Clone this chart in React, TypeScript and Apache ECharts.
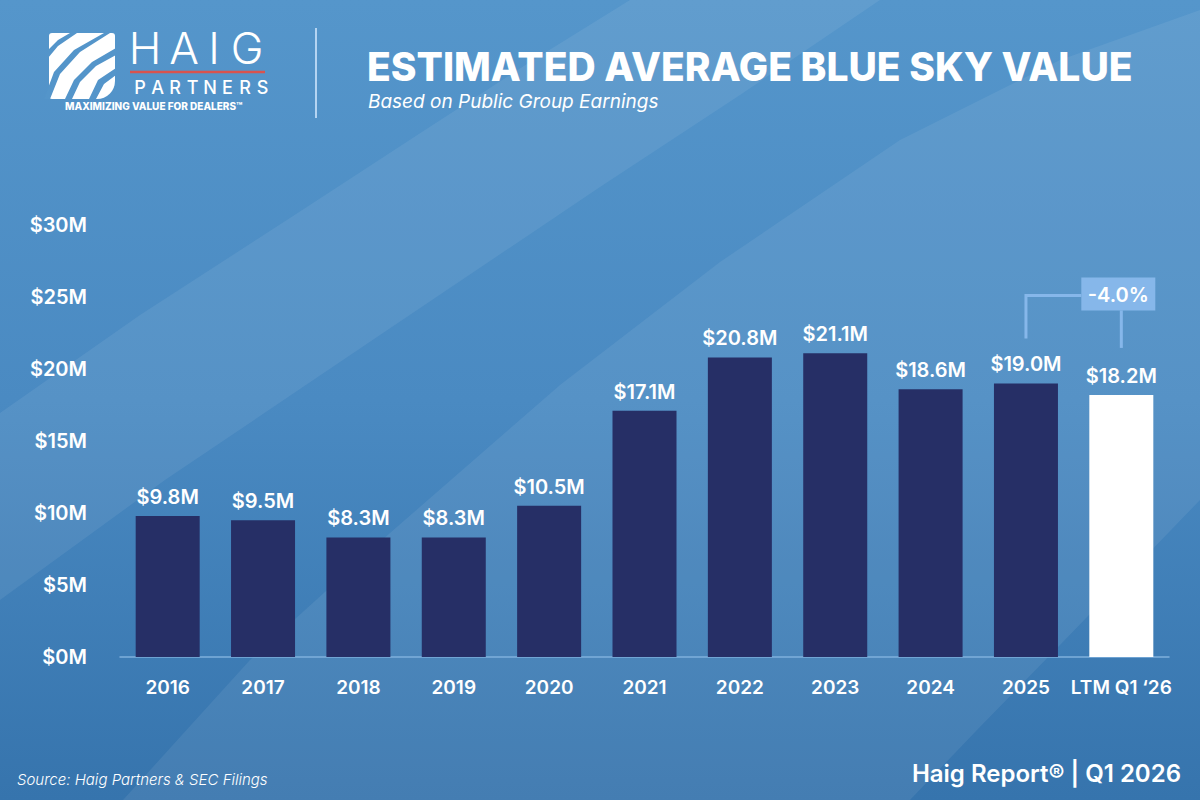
import React, { useEffect, useRef } from 'react';
import * as echarts from 'echarts';

// chart data
const categories = ['2016', '2017', '2018', '2019', '2020', '2021', '2022', '2023', '2024', '2025', 'LTM Q1 \u201826'];
const blueSkyValues = [9.8, 9.5, 8.3, 8.3, 10.5, 17.1, 20.8, 21.1, 18.6, 19.0, 18.2];
const yMin = 0;
const yMax = 30;
const yStep = 5;
const changeLabel = '-4.0%';

const FONT = 'Inter, "Open Sans", sans-serif';
const NAVY = '#262f66';
const BOX = '#86b7ea';
const LOGO_BG = '#5495ca';

const partnersLetters = 'PARTNERS'.split('');

function backgroundGraphics(): any[] {
    return [
        {
            type: 'rect', z: -10, silent: true,
            shape: { x: 0, y: 0, width: 1200, height: 800 },
            style: {
                fill: new echarts.graphic.LinearGradient(0, 0, 0, 1, [
                    { offset: 0, color: '#5596cb' },
                    { offset: 0.5, color: '#4a8ac2' },
                    { offset: 1, color: '#3674ad' }
                ])
            }
        },
        {
            type: 'polygon', z: -9, silent: true,
            shape: {
                points: [[0, 413], [140, 315], [290, 218], [425, 130], [530, 62], [630, 0],
                    [880, 0], [740, 95], [600, 187], [380, 335], [165, 480], [0, 600]]
            },
            style: { fill: 'rgba(255,255,255,0.07)' }
        },
        {
            type: 'polygon', z: -9, silent: true,
            shape: {
                points: [[123, 800], [250, 660], [390, 533], [560, 385], [720, 262], [900, 140],
                    [1060, 60], [1200, 10], [1200, 500], [1060, 645], [977, 730], [910, 800]]
            },
            style: { fill: 'rgba(255,255,255,0.07)' }
        }
    ];
}

function headerGraphics(): any[] {
    const els: any[] = [];
    // logo mark: white rounded tile cut by curved stripes
    els.push({
        type: 'rect', z: 5, silent: true,
        shape: { x: 49, y: 33, width: 66, height: 66, r: [3, 3, 18, 3] },
        style: { fill: '#ffffff' }
    });
    const stripes = [
        [[104, 33], [110, 33], [80, 52], [60, 74], [50, 99], [44, 99], [54, 72], [74, 50]],
        [[116, 48], [116, 55], [96, 66], [80, 82], [72, 99], [65, 99], [74, 80], [92, 62]],
        [[116, 68], [116, 75], [104, 84], [96, 99], [89, 99], [98, 80]],
        [[70, 33], [77, 33], [58, 46], [48, 58], [48, 50], [58, 40]]
    ];
    stripes.forEach((pts) => {
        els.push({
            type: 'polygon', z: 6, silent: true,
            shape: { points: pts },
            style: { fill: LOGO_BG }
        });
    });
    // HAIG wordmark
    const haig = [['H', 145], ['A', 184], ['I', 214], ['G', 247]];
    haig.forEach(([ch, x]) => {
        els.push({
            type: 'text', z: 5, silent: true, x: x as number, y: 48,
            style: {
                text: ch, fill: '#ffffff', font: `300 44px ${FONT}`,
                align: 'center', verticalAlign: 'middle'
            }
        });
    });
    els.push({
        type: 'line', z: 5, silent: true,
        shape: { x1: 130, y1: 72, x2: 265, y2: 72 },
        style: { stroke: '#d9534f', lineWidth: 2.5 }
    });
    partnersLetters.forEach((ch, i) => {
        els.push({
            type: 'text', z: 5, silent: true, x: 140 + i * 17.5, y: 87,
            style: {
                text: ch, fill: '#ffffff', font: `500 18px ${FONT}`,
                align: 'center', verticalAlign: 'middle'
            }
        });
    });
    els.push({
        type: 'text', z: 7, silent: true, x: 65, y: 106,
        style: {
            text: 'MAXIMIZING VALUE FOR DEALERS\u2122', fill: '#ffffff',
            font: `800 10px ${FONT}`, align: 'left', verticalAlign: 'middle'
        }
    });
    els.push({
        type: 'line', z: 5, silent: true,
        shape: { x1: 316, y1: 28, x2: 316, y2: 118 },
        style: { stroke: '#b4d4f2', lineWidth: 2 }
    });
    els.push({
        type: 'text', z: 5, silent: true, x: 367, y: 66,
        style: {
            text: 'ESTIMATED AVERAGE BLUE SKY VALUE', fill: '#ffffff',
            font: `800 39px ${FONT}`, align: 'left', verticalAlign: 'middle'
        }
    });
    els.push({
        type: 'text', z: 5, silent: true, x: 368, y: 101,
        style: {
            text: 'Based on Public Group Earnings', fill: '#ffffff',
            font: `italic 400 19px ${FONT}`, align: 'left', verticalAlign: 'middle'
        }
    });
    els.push({
        type: 'text', z: 5, silent: true, x: 17, y: 779,
        style: {
            text: 'Source: Haig Partners & SEC Filings', fill: '#ffffff',
            font: `italic 300 15px ${FONT}`, align: 'left', verticalAlign: 'middle'
        }
    });
    els.push({
        type: 'text', z: 5, silent: true, x: 1181, y: 773,
        style: {
            text: 'Haig Report\u00ae | Q1 2026', fill: '#ffffff',
            font: `600 24px ${FONT}`, align: 'right', verticalAlign: 'middle'
        }
    });
    return els;
}

const App: React.FC = () => {
    const chartRef = useRef<HTMLDivElement>(null);

    useEffect(() => {
        if (!chartRef.current) return;
        const chart = echarts.init(chartRef.current, undefined, { renderer: 'svg' });

        const option: any = {
            animation: false,
            backgroundColor: '#4a8ac2',
            grid: { left: 120, right: 31, top: 225, bottom: 143 },
            xAxis: {
                type: 'category',
                data: categories,
                axisTick: { show: false },
                axisLine: { lineStyle: { color: '#7fb0dc', width: 1.5 } },
                axisLabel: {
                    color: '#ffffff', fontFamily: FONT, fontSize: 19, fontWeight: 600,
                    margin: 21, interval: 0
                }
            },
            yAxis: {
                type: 'value',
                min: yMin,
                max: yMax,
                interval: yStep,
                splitLine: { show: false },
                axisLine: { show: false },
                axisTick: { show: false },
                axisLabel: {
                    color: '#ffffff', fontFamily: FONT, fontSize: 20, fontWeight: 600,
                    margin: 33, formatter: (v: number) => `$${v}M`
                }
            },
            series: [
                {
                    type: 'bar',
                    barWidth: 64,
                    data: blueSkyValues.map((v, i) => ({
                        value: v,
                        itemStyle: { color: i === blueSkyValues.length - 1 ? '#ffffff' : NAVY }
                    })),
                    label: {
                        show: true,
                        position: 'top',
                        distance: 9,
                        color: '#ffffff',
                        fontFamily: FONT,
                        fontSize: 20,
                        fontWeight: 600,
                        formatter: (p: any) => `$${Number(p.value).toFixed(1)}M`
                    }
                }
            ],
            graphic: [...backgroundGraphics(), ...headerGraphics()]
        };
        chart.setOption(option);

        // change bracket between the last two bars
        const n = blueSkyValues.length;
        const pPrev = chart.convertToPixel({ seriesIndex: 0 }, [n - 2, blueSkyValues[n - 2]]) as number[];
        const pLast = chart.convertToPixel({ seriesIndex: 0 }, [n - 1, blueSkyValues[n - 1]]) as number[];
        const boxTop = Math.min(pPrev[1], pLast[1]) - 106;
        const boxH = 33;
        const boxW = 74;
        const boxCx = pLast[0] - 3;
        const lineY = boxTop + 18;
        const stroke = { stroke: BOX, lineWidth: 3 };
        chart.setOption({
            graphic: [
                ...backgroundGraphics(),
                ...headerGraphics(),
                {
                    type: 'polyline', z: 20, silent: true,
                    shape: { points: [[pPrev[0], pPrev[1] - 45], [pPrev[0], lineY], [boxCx - boxW / 2, lineY]] },
                    style: { ...stroke, fill: null }
                },
                {
                    type: 'line', z: 20, silent: true,
                    shape: { x1: pLast[0], y1: boxTop + boxH, x2: pLast[0], y2: pLast[1] - 47 },
                    style: stroke
                },
                {
                    type: 'rect', z: 21, silent: true,
                    shape: { x: boxCx - boxW / 2, y: boxTop, width: boxW, height: boxH },
                    style: { fill: BOX }
                },
                {
                    type: 'text', z: 22, silent: true, x: boxCx, y: boxTop + boxH / 2 + 1,
                    style: {
                        text: changeLabel, fill: '#ffffff', font: `600 20px ${FONT}`,
                        align: 'center', verticalAlign: 'middle'
                    }
                }
            ]
        }, { replaceMerge: ['graphic'] });

        return () => {
            chart.dispose();
        };
    }, []);

    return (
        <div
            ref={chartRef}
            style={{ position: 'fixed', left: 0, top: 0, width: '1200px', height: '800px' }}
        ></div>
    );
};

export default App;
